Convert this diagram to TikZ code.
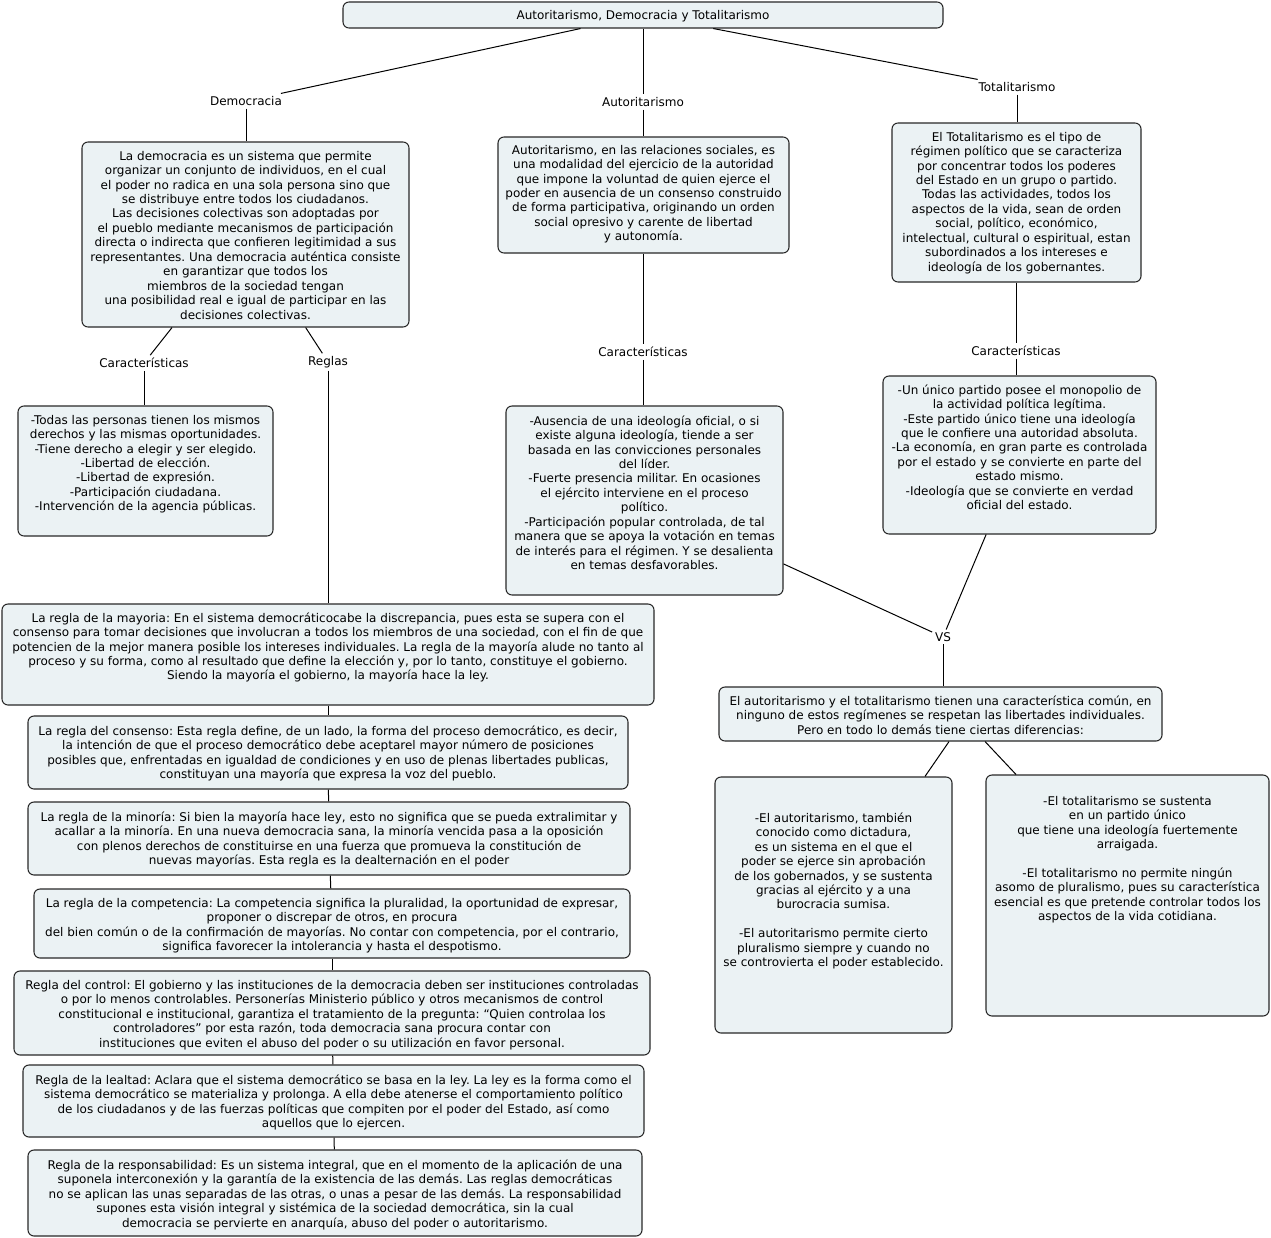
\documentclass[tikz,border=0pt]{standalone}
\usepackage{fontspec}
\setmainfont{DejaVu Sans}
\frenchspacing
\definecolor{boxfill}{RGB}{235,242,244}
\definecolor{edge}{RGB}{40,40,40}
\tikzset{
  x=0.75pt, y=-0.75pt,
  cbox/.style={draw=edge, line width=0.8pt, rounded corners=4.5pt, fill=boxfill, inner sep=0pt, font=\fontsize{9}{10.85}\selectfont\frenchspacing},
  lbl/.style={inner sep=2pt, font=\fontsize{9}{10.85}\selectfont},
  conn/.style={draw=black, line width=0.75pt}
}
\newcommand\mybox[7]{%
  \node[cbox] (#1) at ({(#2+#4)/2},{(#3+#5)/2})
  {\parbox[c][\dimexpr 0.75pt*\numexpr #5-#3\relax\relax][t]{\dimexpr 0.75pt*\numexpr #4-#2\relax\relax}{\vspace*{\dimexpr 0.75pt*#6\relax}\makebox[\linewidth][c]{\begin{tabular}{@{}c@{}}#7\end{tabular}}\par}};}
\begin{document}
\begin{tikzpicture}
\useasboundingbox (0,0) rectangle (1271,1238);
\fill[white] (0,0) rectangle (1271,1238);

\mybox{title}{343}{2}{943}{28}{7}{Autoritarismo, Democracia y Totalitarismo}

\node[lbl] (demlab) at (246,101) {Democracia};
\node[lbl] (autlab) at (643,102) {Autoritarismo};
\node[lbl] (totlab) at (1017,87) {Totalitarismo};

\mybox{dem}{82}{142}{409}{327}{8}{La democracia es un sistema que permite\\
organizar un conjunto de individuos, en el cual\\
el poder no radica en una sola persona sino que\\
se distribuye entre todos los ciudadanos.\\
Las decisiones colectivas son adoptadas por\\
el pueblo mediante mecanismos de participación\\
directa o indirecta que confieren legitimidad a sus\\
representantes. Una democracia auténtica consiste\\
en garantizar que todos los\\
miembros de la sociedad tengan\\
una posibilidad real e igual de participar en las\\
decisiones colectivas.}

\mybox{aut}{498}{137}{789}{253}{7}{Autoritarismo, en las relaciones sociales, es\\
una modalidad del ejercicio de la autoridad\\
que impone la voluntad de quien ejerce el\\
poder en ausencia de un consenso construido\\
de forma participativa, originando un orden\\
social opresivo y carente de libertad\\
y autonomía.}

\mybox{tot}{892}{123}{1141}{282}{8}{El Totalitarismo es el tipo de\\
régimen político que se caracteriza\\
por concentrar todos los poderes\\
del Estado en un grupo o partido.\\
Todas las actividades, todos los\\
aspectos de la vida, sean de orden\\
social, político, económico,\\
intelectual, cultural o espiritual, estan\\
subordinados a los intereses e\\
ideología de los gobernantes.}

\node[lbl] (car1) at (144,363) {Características};
\node[lbl] (reglas) at (328,362) {Reglas};
\node[lbl] (car2) at (643,352) {Características};
\node[lbl] (car3) at (1016,351) {Características};
\node[lbl] (vs) at (943,637) {VS};

\mybox{dcar}{18}{406}{273}{536}{8}{-Todas las personas tienen los mismos\\
derechos y las mismas oportunidades.\\
-Tiene derecho a elegir y ser elegido.\\
-Libertad de elección.\\
-Libertad de expresión.\\
-Participación ciudadana.\\
-Intervención de la agencia públicas.}

\mybox{acar}{506}{406}{783}{595}{9}{-Ausencia de una ideología oficial, o si\\
existe alguna ideología, tiende a ser\\
basada en las convicciones personales\\
del líder.\\
-Fuerte presencia militar. En ocasiones\\
el ejército interviene en el proceso\\
político.\\
-Participación popular controlada, de tal\\
manera que se apoya la votación en temas\\
de interés para el régimen. Y se desalienta\\
en temas desfavorables.}

\mybox{tcar}{883}{376}{1156}{534}{8}{-Un único partido posee el monopolio de\\
la actividad política legítima.\\
-Este partido único tiene una ideología\\
que le confiere una autoridad absoluta.\\
-La economía, en gran parte es controlada\\
por el estado y se convierte en parte del\\
estado mismo.\\
-Ideología que se convierte en verdad\\
oficial del estado.}

\mybox{mayoria}{2}{604}{654}{705}{8}{La regla de la mayoria: En el sistema democráticocabe la discrepancia, pues esta se supera con el\\
consenso para tomar decisiones que involucran a todos los miembros de una sociedad, con el fin de que\\
potencien de la mejor manera posible los intereses individuales. La regla de la mayoría alude no tanto al\\
proceso y su forma, como al resultado que define la elección y, por lo tanto, constituye el gobierno.\\
Siendo la mayoría el gobierno, la mayoría hace la ley.}

\mybox{consenso}{28}{716}{628}{789}{9}{La regla del consenso: Esta regla define, de un lado, la forma del proceso democrático, es decir,\\
la intención de que el proceso democrático debe aceptarel mayor número de posiciones\\
posibles que, enfrentadas en igualdad de condiciones y en uso de plenas libertades publicas,\\
constituyan una mayoría que expresa la voz del pueblo.}

\mybox{minoria}{28}{802}{630}{875}{9}{La regla de la minoría: Si bien la mayoría hace ley, esto no significa que se pueda extralimitar y\\
acallar a la minoría. En una nueva democracia sana, la minoría vencida pasa a la oposición\\
con plenos derechos de constituirse en una fuerza que promueva la constitución de\\
nuevas mayorías. Esta regla es la dealternación en el poder}

\mybox{competencia}{34}{889}{630}{958}{8}{La regla de la competencia: La competencia significa la pluralidad, la oportunidad de expresar,\\
proponer o discrepar de otros, en procura\\
del bien común o de la confirmación de mayorías. No contar con competencia, por el contrario,\\
significa favorecer la intolerancia y hasta el despotismo.}

\mybox{control}{14}{971}{650}{1055}{8}{Regla del control: El gobierno y las instituciones de la democracia deben ser instituciones controladas\\
o por lo menos controlables. Personerías Ministerio público y otros mecanismos de control\\
constitucional e institucional, garantiza el tratamiento de la pregunta: “Quien controlaa los\\
controladores” por esta razón, toda democracia sana procura contar con\\
instituciones que eviten el abuso del poder o su utilización en favor personal.}

\mybox{lealtad}{23}{1065}{644}{1137}{9}{Regla de la lealtad: Aclara que el sistema democrático se basa en la ley. La ley es la forma como el\\
sistema democrático se materializa y prolonga. A ella debe atenerse el comportamiento político\\
de los ciudadanos y de las fuerzas políticas que compiten por el poder del Estado, así como\\
aquellos que lo ejercen.}

\mybox{respons}{28}{1150}{642}{1236}{9}{Regla de la responsabilidad: Es un sistema integral, que en el momento de la aplicación de una\\
suponela interconexión y la garantía de la existencia de las demás. Las reglas democráticas\\
no se aplican las unas separadas de las otras, o unas a pesar de las demás. La responsabilidad\\
supones esta visión integral y sistémica de la sociedad democrática, sin la cual\\
democracia se pervierte en anarquía, abuso del poder o autoritarismo.}

\mybox{common}{719}{687}{1162}{741}{8}{El autoritarismo y el totalitarismo tienen una característica común, en\\
ninguno de estos regímenes se respetan las libertades individuales.\\
Pero en todo lo demás tiene ciertas diferencias:}

\mybox{left}{715}{777}{952}{1033}{35}{-El autoritarismo, también\\
conocido como dictadura,\\
es un sistema en el que el\\
poder se ejerce sin aprobación\\
de los gobernados, y se sustenta\\
gracias al ejército y a una\\
burocracia sumisa.\\
\\
-El autoritarismo permite cierto\\
pluralismo siempre y cuando no\\
se controvierta el poder establecido.}

\mybox{right}{986}{775}{1269}{1016}{20}{-El totalitarismo se sustenta\\
en un partido único\\
que tiene una ideología fuertemente\\
arraigada.\\
\\
-El totalitarismo no permite ningún\\
asomo de pluralismo, pues su característica\\
esencial es que pretende controlar todos los\\
aspectos de la vida cotidiana.}

% connectors
\draw[conn] (title) -- (demlab);
\draw[conn] (title) -- (autlab);
\draw[conn] (title) -- (totlab);
\draw[conn] (demlab) -- (demlab |- dem.north);
\draw[conn] (autlab) -- (autlab |- aut.north);
\draw[conn] (totlab) -- (totlab |- tot.north);
\draw[conn] (dem) -- (car1);
\draw[conn] (dem) -- (reglas);
\draw[conn] (car1) -- (car1 |- dcar.north);
\draw[conn] (reglas) -- (reglas |- mayoria.north);
\draw[conn] (aut.south -| car2) -- (car2);
\draw[conn] (car2) -- (car2 |- acar.north);
\draw[conn] (tot.south -| car3) -- (car3);
\draw[conn] (car3) -- (car3 |- tcar.north);
\draw[conn] (mayoria) -- (consenso);
\draw[conn] (consenso) -- (minoria);
\draw[conn] (minoria) -- (competencia);
\draw[conn] (competencia) -- (control);
\draw[conn] (control) -- (lealtad);
\draw[conn] (lealtad) -- (respons);
\draw[conn] (acar) -- (vs);
\draw[conn] (tcar) -- (vs);
\draw[conn] (vs) -- (vs |- common.north);
\draw[conn] ([xshift=6.4pt]common.south) -- ([xshift=68.6pt]left.north);
\draw[conn] ([xshift=33.4pt]common.south) -- ([xshift=-83.6pt]right.north);
\end{tikzpicture}
\end{document}
